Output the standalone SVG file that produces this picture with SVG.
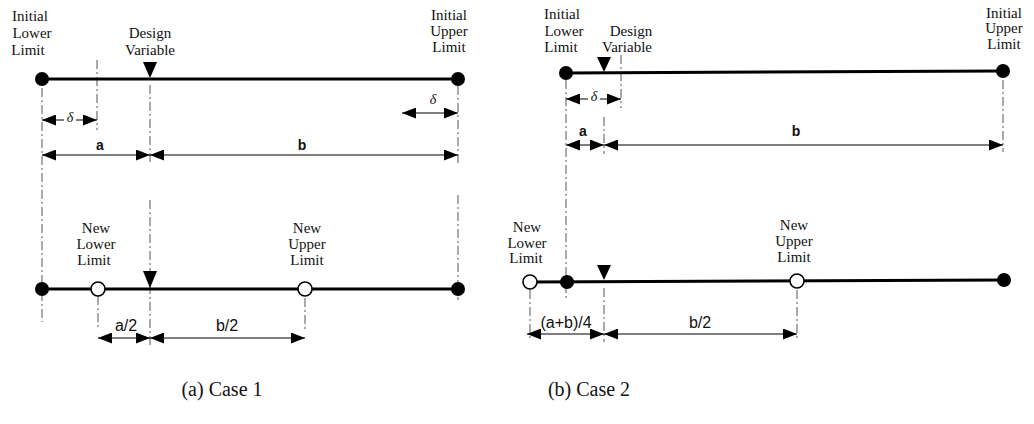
<svg xmlns="http://www.w3.org/2000/svg" width="1034" height="424" viewBox="0 0 1034 424">
<defs>
<style>
.bar{stroke:#000;stroke-width:3;fill:none}
.dash{stroke:#555;stroke-width:1;stroke-dasharray:9,3,2,3;fill:none}
.dim{stroke:#000;stroke-width:1.2;fill:none;marker-start:url(#ah);marker-end:url(#ah)}
.full{fill:#000}
.open{fill:#fff;stroke:#000;stroke-width:1.6}
.tri{fill:#000}
.mask{fill:#fff}
.lbl{font-family:"Liberation Serif",serif;font-size:15px;fill:#111;text-anchor:middle}
.dl{font-family:"Liberation Sans",sans-serif;font-size:16px;fill:#111;text-anchor:middle}
.dlb{font-family:"Liberation Sans",sans-serif;font-size:14px;font-weight:bold;fill:#111;text-anchor:middle}
.dlt{font-family:"Liberation Serif",serif;font-size:14px;font-style:italic;fill:#111;text-anchor:middle}
.cap{font-family:"Liberation Serif",serif;font-size:20px;fill:#111;text-anchor:middle}
</style>
<marker id="ah" viewBox="0 0 14 11" refX="14" refY="5.5" markerWidth="14" markerHeight="11" markerUnits="userSpaceOnUse" orient="auto-start-reverse">
<path d="M0,0 L14,5.5 L0,11 z" fill="#000"/>
</marker>
</defs>
<rect width="1034" height="424" fill="#fff"/>

<g id="guides">
<line class="dash" x1="42" y1="88" x2="42" y2="322"/>
<line class="dash" x1="97" y1="60" x2="97" y2="130"/>
<line class="dash" x1="150" y1="85" x2="150" y2="165"/>
<line class="dash" x1="150" y1="200" x2="150" y2="345"/>
<line class="dash" x1="458" y1="86" x2="458" y2="165"/>
<line class="dash" x1="458" y1="195" x2="458" y2="300"/>
<line class="dash" x1="98" y1="296" x2="98" y2="330"/>
<line class="dash" x1="305" y1="298" x2="305" y2="330"/>
<line class="dash" x1="566" y1="80" x2="566" y2="298"/>
<line class="dash" x1="621" y1="55" x2="621" y2="108"/>
<line class="dash" x1="604" y1="117" x2="604" y2="154"/>
<line class="dash" x1="604" y1="288" x2="604" y2="342"/>
<line class="dash" x1="1003" y1="80" x2="1003" y2="152"/>
<line class="dash" x1="530" y1="290" x2="530" y2="340"/>
<line class="dash" x1="797" y1="290" x2="797" y2="340"/>
</g>

<g id="connectors">
<line class="dim" x1="42" y1="120" x2="97" y2="120"/>
<line class="dim" x1="402" y1="113" x2="458" y2="113"/>
<line class="dim" x1="42" y1="155" x2="150" y2="155"/>
<line class="dim" x1="150" y1="155" x2="458" y2="155"/>
<line class="dim" x1="98" y1="338" x2="150" y2="338"/>
<line class="dim" x1="150" y1="338" x2="305" y2="338"/>
<line class="dim" x1="566" y1="99" x2="621" y2="99"/>
<line class="dim" x1="566" y1="145" x2="604" y2="145"/>
<line class="dim" x1="604" y1="145" x2="1003" y2="145"/>
<line class="dim" x1="527" y1="334" x2="604" y2="334"/>
<line class="dim" x1="604" y1="334" x2="797" y2="334"/>
</g>

<g id="case1-top">
<line class="bar" x1="42" y1="79" x2="458" y2="79"/>
<circle class="full" cx="42" cy="79" r="7"/>
<circle class="full" cx="458" cy="79" r="7"/>
<polygon class="tri" points="143,62 157,62 150,78"/>
</g>
<g id="c1-initial-lower"><text class="lbl" x="30" y="21">Initial</text><text class="lbl" x="32" y="38">Lower</text><text class="lbl" x="28" y="55">Limit</text></g>
<g id="c1-design"><text class="lbl" x="150" y="38">Design</text><text class="lbl" x="150" y="55">Variable</text></g>
<g id="c1-initial-upper"><text class="lbl" x="449" y="20">Initial</text><text class="lbl" x="449" y="36">Upper</text><text class="lbl" x="449" y="52">Limit</text></g>
<g id="c1-dimlabels">
<rect class="mask" x="64" y="112" width="12" height="12"/>
<text class="dlt" x="70" y="122">δ</text>
<text class="dlt" x="433" y="104">δ</text>
<text class="dlb" x="100" y="150">a</text>
<text class="dlb" x="302" y="150">b</text>
<text class="dl" x="126" y="331">a/2</text>
<text class="dl" x="227" y="331">b/2</text>
</g>
<g id="case1-bottom">
<line class="bar" x1="42" y1="289" x2="458" y2="289"/>
<circle class="full" cx="42" cy="289" r="7"/>
<circle class="full" cx="458" cy="289" r="7"/>
<circle class="open" cx="98" cy="289" r="7"/>
<circle class="open" cx="305" cy="289" r="7"/>
<polygon class="tri" points="143,271 157,271 150,288"/>
</g>
<g id="c1-new-lower"><text class="lbl" x="96" y="233">New</text><text class="lbl" x="96" y="249">Lower</text><text class="lbl" x="94" y="265">Limit</text></g>
<g id="c1-new-upper"><text class="lbl" x="307" y="233">New</text><text class="lbl" x="307" y="249">Upper</text><text class="lbl" x="307" y="265">Limit</text></g>

<g id="case2-top">
<line class="bar" x1="566" y1="73" x2="1003" y2="71"/>
<circle class="full" cx="566" cy="73" r="7"/>
<circle class="full" cx="1003" cy="71" r="7"/>
<polygon class="tri" points="597,57 611,57 604,72"/>
</g>
<g id="c2-initial-lower"><text class="lbl" x="562" y="19">Initial</text><text class="lbl" x="564" y="36">Lower</text><text class="lbl" x="561" y="52">Limit</text></g>
<g id="c2-design"><text class="lbl" x="631" y="36">Design</text><text class="lbl" x="627" y="52">Variable</text></g>
<g id="c2-initial-upper"><text class="lbl" x="1004" y="18">Initial</text><text class="lbl" x="1004" y="33">Upper</text><text class="lbl" x="1004" y="49">Limit</text></g>
<g id="c2-dimlabels">
<rect class="mask" x="588" y="91" width="12" height="12"/>
<text class="dlt" x="594" y="101">δ</text>
<text class="dlb" x="583" y="136">a</text>
<text class="dlb" x="796" y="136">b</text>
<text class="dl" x="566" y="328">(a+b)/4</text>
<text class="dl" x="700" y="328">b/2</text>
</g>
<g id="case2-bottom">
<line class="bar" x1="530" y1="282" x2="1004" y2="280"/>
<circle class="open" cx="530" cy="282" r="7"/>
<circle class="full" cx="567" cy="282" r="7"/>
<circle class="open" cx="797" cy="281" r="7"/>
<circle class="full" cx="1004" cy="280" r="7"/>
<polygon class="tri" points="597,265 611,265 604,280"/>
</g>
<g id="c2-new-lower"><text class="lbl" x="527" y="232">New</text><text class="lbl" x="527" y="248">Lower</text><text class="lbl" x="526" y="263">Limit</text></g>
<g id="c2-new-upper"><text class="lbl" x="794" y="230">New</text><text class="lbl" x="794" y="246">Upper</text><text class="lbl" x="794" y="262">Limit</text></g>

<g id="captions">
<text class="cap" x="222" y="396">(a)  Case 1</text>
<text class="cap" x="589" y="396">(b)  Case 2</text>
</g>
</svg>
